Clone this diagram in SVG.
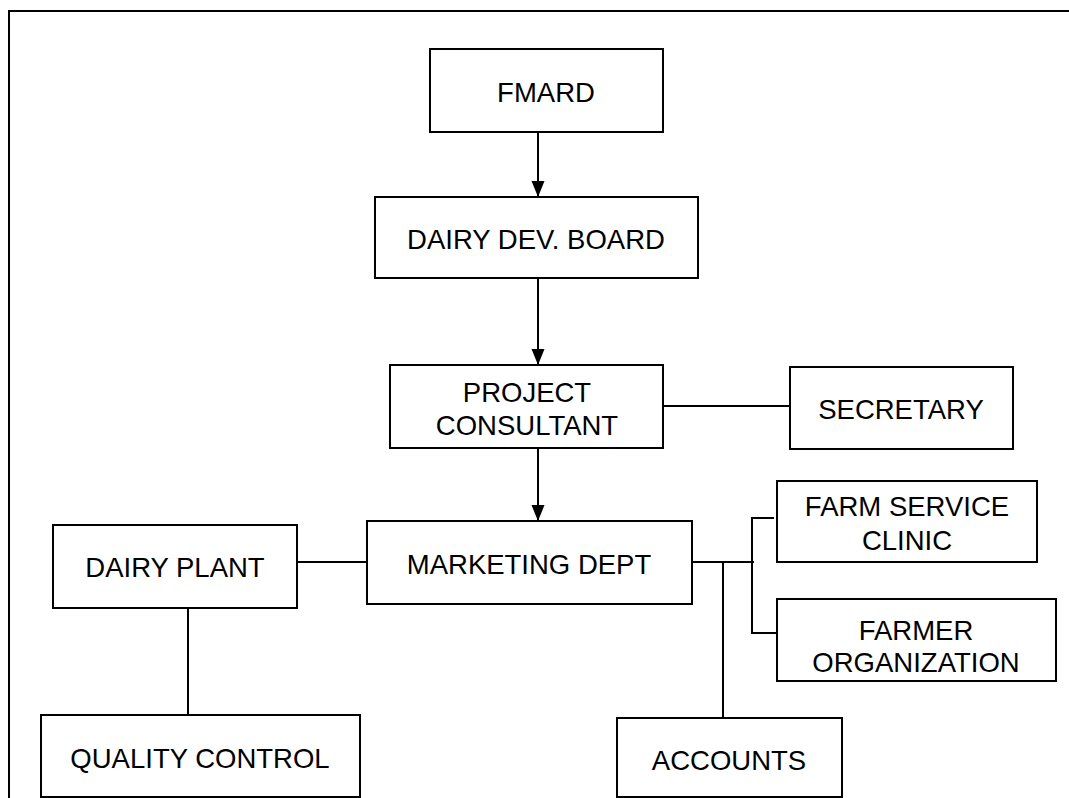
<svg xmlns="http://www.w3.org/2000/svg" width="1069" height="798" viewBox="0 0 1069 798">
<style>
.box{fill:#fff;stroke:#000;stroke-width:2}
.ln{stroke:#000;stroke-width:2;fill:none}
text{font-family:"Liberation Sans",Arial,sans-serif;font-size:27.5px;fill:#000;text-anchor:middle}
</style>
<defs>
<marker id="arr" markerWidth="16" markerHeight="14" refX="15" refY="7" orient="auto" markerUnits="userSpaceOnUse">
<path d="M0,0.5 L16,7 L0,13.5 Z" fill="#000"/>
</marker>
</defs>
<rect width="1069" height="798" fill="#fff"/>
<path class="ln" d="M9,798 V11 H1069"/>
<g id="connectors">
<line class="ln" x1="538" y1="132" x2="538" y2="196" marker-end="url(#arr)"/>
<line class="ln" x1="538" y1="278" x2="538" y2="364" marker-end="url(#arr)"/>
<line class="ln" x1="538" y1="448" x2="538" y2="520" marker-end="url(#arr)"/>
<line class="ln" x1="663" y1="406" x2="790" y2="406"/>
<line class="ln" x1="297" y1="562" x2="367" y2="562"/>
<line class="ln" x1="188" y1="608" x2="188" y2="715"/>
<line class="ln" x1="692" y1="562" x2="754" y2="562"/>
<line class="ln" x1="723" y1="562" x2="723" y2="718"/>
<path class="ln" d="M774,518 H752 V633 H777"/>
</g>
<g id="fmard"><rect class="box" x="430" y="49" width="233" height="83"/><text x="546" y="102">FMARD</text></g>
<g id="ddb"><rect class="box" x="375" y="197" width="323" height="81"/><text x="536" y="249">DAIRY DEV. BOARD</text></g>
<g id="pc"><rect class="box" x="390" y="365" width="273" height="83"/><text x="527" y="402">PROJECT</text><text x="527" y="435">CONSULTANT</text></g>
<g id="sec"><rect class="box" x="790" y="367" width="223" height="82"/><text x="901" y="419">SECRETARY</text></g>
<g id="md"><rect class="box" x="367" y="521" width="325" height="83"/><text x="529" y="574">MARKETING DEPT</text></g>
<g id="dp"><rect class="box" x="53" y="525" width="244" height="83"/><text x="175" y="577">DAIRY PLANT</text></g>
<g id="fsc"><rect class="box" x="777" y="481" width="260" height="81"/><text x="907" y="516">FARM SERVICE</text><text x="907" y="550">CLINIC</text></g>
<g id="fo"><rect class="box" x="777" y="599" width="279" height="82"/><text x="916" y="640">FARMER</text><text x="916" y="672">ORGANIZATION</text></g>
<g id="qc"><rect class="box" x="41" y="715" width="319" height="82"/><text x="200" y="768">QUALITY CONTROL</text></g>
<g id="acc"><rect class="box" x="617" y="718" width="225" height="79"/><text x="729" y="770">ACCOUNTS</text></g>
</svg>
